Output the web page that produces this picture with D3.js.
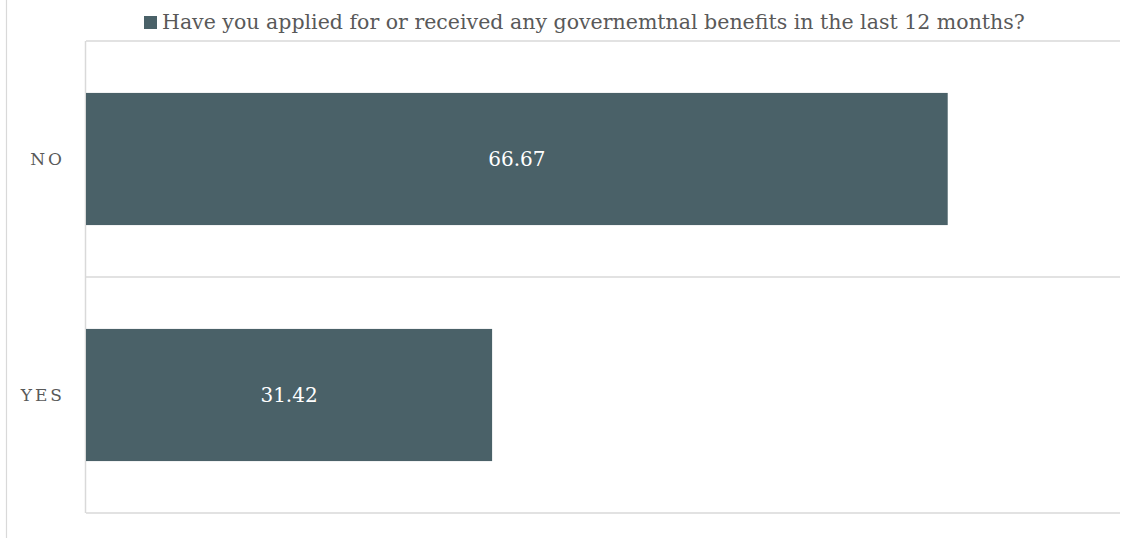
<!DOCTYPE html>
<html>
<head>
<meta charset="utf-8">
<script src="https://cdn.jsdelivr.net/npm/d3@7"></script>
<style>
  html, body { margin: 0; padding: 0; background: #fff; }
  svg { display: block; }
  text { font-family: "DejaVu Serif", "Liberation Serif", serif; }
</style>
</head>
<body>
<svg id="chart" width="1140" height="538"></svg>
<script>
// Survey answers and their percentages
const categories = ["NO", "YES"];
const values = [66.67, 31.42];
const seriesName = "Have you applied for or received any governemtnal benefits in the last 12 months?";
const xMax = 80;

const W = 1140, H = 538;
const plot = { left: 86, right: 1120, top: 41, bottom: 513 };
const barColor = "#4a6168";
const gridColor = "#d9d9d9";

const svg = d3.select("#chart");

const x = d3.scaleLinear().domain([0, xMax]).range([plot.left, plot.right]);
const y = d3.scaleBand().domain(categories).range([plot.top, plot.bottom])
  .paddingInner(0.44).paddingOuter(0.22);

// outer frame line on the left edge
svg.append("line")
  .attr("x1", 6.5).attr("x2", 6.5).attr("y1", 0).attr("y2", H)
  .attr("stroke", gridColor).attr("stroke-width", 1.2);

// horizontal gridlines at category boundaries
const bounds = [plot.top, ...categories.slice(1).map(c => y(c) - y.step() * y.paddingInner() / 2), plot.bottom];
svg.append("g").selectAll("line").data(bounds).join("line")
  .attr("x1", plot.left).attr("x2", plot.right)
  .attr("y1", d => d).attr("y2", d => d)
  .attr("stroke", gridColor).attr("stroke-width", 1.5);

// category axis line
svg.append("line")
  .attr("x1", plot.left - 0.5).attr("x2", plot.left - 0.5)
  .attr("y1", plot.top).attr("y2", plot.bottom)
  .attr("stroke", gridColor).attr("stroke-width", 1.5);

// bars
svg.append("g").selectAll("rect").data(values).join("rect")
  .attr("x", x(0))
  .attr("y", (d, i) => y(categories[i]))
  .attr("width", d => x(d) - x(0))
  .attr("height", y.bandwidth())
  .attr("fill", barColor);

// value labels centred in each bar
svg.append("g").selectAll("text").data(values).join("text")
  .attr("x", d => (x(0) + x(d)) / 2)
  .attr("y", (d, i) => y(categories[i]) + y.bandwidth() / 2)
  .attr("dy", "0.35em")
  .attr("text-anchor", "middle")
  .attr("fill", "#ffffff")
  .attr("font-size", 20)
  .text(d => d.toFixed(2));

// category labels
svg.append("g").selectAll("text").data(categories).join("text")
  .attr("x", 65)
  .attr("y", d => y(d) + y.bandwidth() / 2)
  .attr("dy", "0.36em")
  .attr("text-anchor", "end")
  .attr("fill", "#595959")
  .attr("font-size", 17)
  .attr("letter-spacing", "3px")
  .text(d => d);

// legend
const legend = svg.append("g");
legend.append("rect")
  .attr("x", 144).attr("y", 16).attr("width", 13).attr("height", 13)
  .attr("fill", barColor);
const legendText = legend.append("text")
  .attr("x", 162).attr("y", 29)
  .attr("fill", "#595959")
  .attr("font-size", 18)
  .text(seriesName);
// size the legend text to span its slot
const targetWidth = 863;
let fs = 18;
for (let k = 0; k < 4; k++) {
  const w = legendText.node().getComputedTextLength();
  fs = fs * targetWidth / w;
  legendText.attr("font-size", fs);
}
</script>
</body>
</html>
